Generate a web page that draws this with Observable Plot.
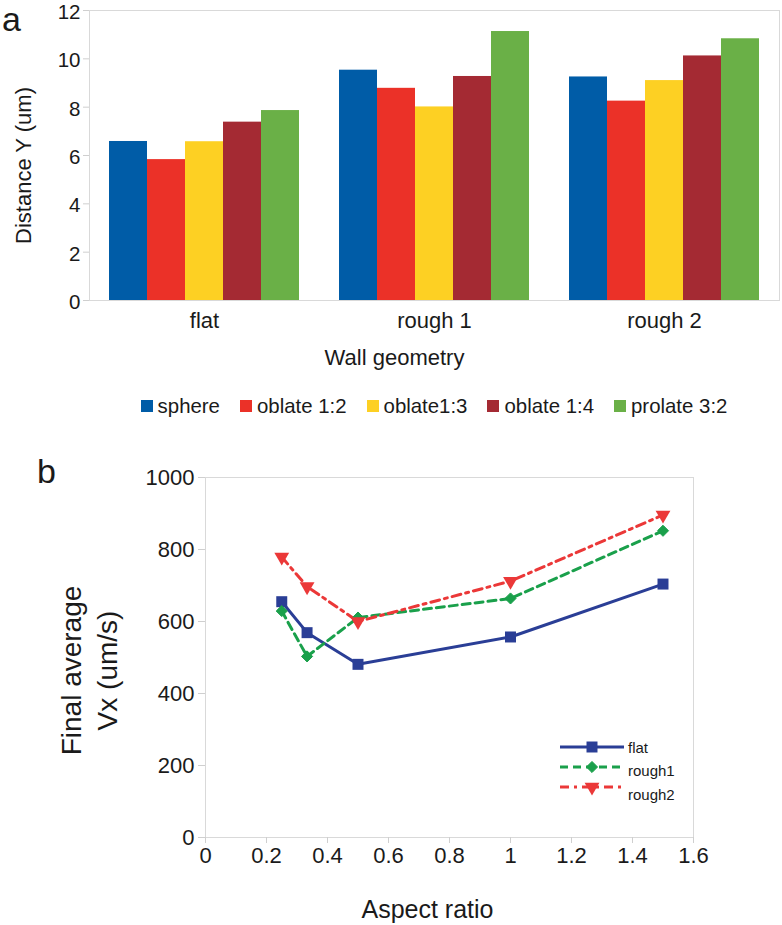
<!DOCTYPE html>
<html>
<head>
<meta charset="utf-8">
<script src="https://cdn.jsdelivr.net/npm/d3@7"></script>
<script src="https://cdn.jsdelivr.net/npm/@observablehq/plot@0.6"></script>
<style>
  body { margin: 0; background: #fff; font-family: "Liberation Sans", Arial, sans-serif; }
  #root { position: relative; width: 782px; height: 925px; overflow: hidden; background: #fff; }
  .abs { position: absolute; }
  .panel { position: absolute; font-size: 34px; line-height: 1.15; color: #1a1a1a; }
  #legend1 { position: absolute; left: 89px; width: 690px; top: 393px; height: 26px;
             display: flex; justify-content: center; align-items: center; gap: 20px;
             font-size: 20.4px; color: #1a1a1a; }
  #legend1 .item { display: flex; align-items: center; white-space: nowrap; }
  #legend1 .sw { width: 12px; height: 12px; margin-right: 5px; }
</style>
</head>
<body>
<div id="root"></div>
<script>
// ---------- Panel a data ----------
const walls = ["flat", "rough 1", "rough 2"];
const shapes = ["sphere", "oblate 1:2", "oblate1:3", "oblate 1:4", "prolate 3:2"];
const shapeColors = ["#005ca7", "#eb3128", "#fdd023", "#a42a33", "#6ab047"];
const sphereY    = [6.58, 9.53, 9.25];
const oblate12Y  = [5.83, 8.78, 8.25];
const oblate13Y  = [6.57, 8.01, 9.10];
const oblate14Y  = [7.38, 9.27, 10.12];
const prolate32Y = [7.86, 11.13, 10.83];
const distTicks = [0, 2, 4, 6, 8, 10, 12];

// ---------- Panel b data ----------
const aspect  = [0.25, 0.333, 0.5, 1, 1.5];
const flatV   = [655, 569, 481, 557, 704];
const rough1V = [629, 503, 611, 664, 852];
const rough2V = [779, 697, 600, 712, 896];
const seriesNames = ["flat", "rough1", "rough2"];
const seriesColors = ["#2a3e96", "#1aa04b", "#eb3838"];
const vxTicks = [0, 200, 400, 600, 800, 1000];
const arTicks = [0, 0.2, 0.4, 0.6, 0.8, 1, 1.2, 1.4, 1.6];

const FONT = '"Liberation Sans", Arial, sans-serif';
const root = document.getElementById("root");

// ---------- build tables ----------
const shapeValues = [sphereY, oblate12Y, oblate13Y, oblate14Y, prolate32Y];
const barRows = [];
shapes.forEach((s, i) => walls.forEach((w, j) => barRows.push({wall: w, shape: s, value: shapeValues[i][j]})));

const lineRows = [flatV, rough1V, rough2V].map(vals => aspect.map((a, i) => ({a, v: vals[i]})));

// ---------- Panel a ----------
const chartA = Plot.plot({
  width: 782, height: 385,
  marginTop: 10, marginBottom: 85, marginLeft: 89, marginRight: 3,
  style: {fontFamily: FONT, fontSize: "21px", background: "white", color: "#1a1a1a", overflow: "visible"},
  fx: {domain: walls, padding: 0, label: null},
  x: {domain: shapes, paddingInner: 0, paddingOuter: 0.5, axis: null},
  y: {domain: [0, 12], label: null},
  color: {domain: shapes, range: shapeColors},
  marks: [
    Plot.barY(barRows, {fx: "wall", x: "shape", y: "value", fill: "shape", inset: 0}),
    Plot.frame({facet: "super", stroke: "#d9d9d9"}),
    // tick marks only
    Plot.axisY({ticks: distTicks, tickSize: 6, stroke: "#cfcfcf", fill: "none", label: null}),
    // tick labels only (nudged down a little, as in the original)
    Plot.axisY({ticks: distTicks, tickSize: 0, tickPadding: 9, stroke: "none", fill: "#1a1a1a", fontSize: 20.5, dy: 2, label: null}),
    Plot.axisFx({anchor: "bottom", tickSize: 0, tickPadding: 12, fontSize: 22, fill: "#1a1a1a", label: null}),
    Plot.text([{wall: "rough 1"}], {fx: "wall", frameAnchor: "bottom", text: () => "Wall geometry",
      textAnchor: "middle", lineAnchor: "middle", dx: -40, dy: 57, fontSize: 22, fill: "#1a1a1a"}),
    Plot.text([{wall: "flat"}], {fx: "wall", frameAnchor: "left", text: () => "Distance Y (um)",
      rotate: -90, textAnchor: "middle", lineAnchor: "middle", dx: -66, dy: 10, fontSize: 22, fill: "#1a1a1a"})
  ]
});
chartA.classList.add("abs");
chartA.style.left = "0px"; chartA.style.top = "0px";
root.appendChild(chartA);

// legend a
const leg1 = document.createElement("div");
leg1.id = "legend1";
shapes.forEach((s, i) => {
  const it = document.createElement("div"); it.className = "item";
  const sw = document.createElement("span"); sw.className = "sw"; sw.style.background = shapeColors[i];
  const tx = document.createElement("span"); tx.textContent = s;
  it.appendChild(sw); it.appendChild(tx); leg1.appendChild(it);
});
root.appendChild(leg1);

// ---------- Panel b ----------
const dashes = [null, "8 5", "9 5 3 5"];
const chartB = Plot.plot({
  width: 782, height: 470,
  marginTop: 22, marginBottom: 88, marginLeft: 205, marginRight: 89,
  style: {fontFamily: FONT, fontSize: "22px", background: "white", color: "#1a1a1a", overflow: "visible"},
  x: {domain: [0, 1.6]},
  y: {domain: [0, 1000]},
  marks: [
    Plot.frame({stroke: "#d9d9d9"}),
    Plot.axisY({ticks: vxTicks, tickFormat: d => String(d), tickSize: 7, tickPadding: 4, stroke: "#cfcfcf", fill: "#1a1a1a", fontSize: 22, label: null}),
    Plot.axisX({ticks: arTicks, tickFormat: d => String(d), tickSize: 6, tickPadding: 4, stroke: "#cfcfcf", fill: "#1a1a1a", fontSize: 22, label: null}),
    ...lineRows.map((rows, k) => Plot.line(rows, {x: "a", y: "v", stroke: seriesColors[k], strokeWidth: 3,
        strokeDasharray: dashes[k] || undefined})),
    Plot.dot(lineRows[0], {x: "a", y: "v", symbol: "square", r: 6.2, fill: seriesColors[0]}),
    Plot.dot(lineRows[1], {x: "a", y: "v", symbol: "diamond2", r: 5, fill: seriesColors[1], stroke: seriesColors[1], strokeWidth: 1}),
    Plot.dot(lineRows[2], {x: "a", y: "v", symbol: "triangle", rotate: 180, r: 5.5, fill: seriesColors[2]}),
    Plot.text(["Aspect ratio"], {frameAnchor: "bottom", text: d => d, textAnchor: "middle", lineAnchor: "middle",
      dx: -22, dy: 72, fontSize: 25, fill: "#1a1a1a"}),
    Plot.text(["Final average\nVx (um/s)"], {frameAnchor: "left", text: d => d, rotate: -90, textAnchor: "middle",
      lineAnchor: "middle", dx: -118, dy: 13, fontSize: 28, lineHeight: 1.28, fill: "#1a1a1a"})
  ]
});
chartB.classList.add("abs");
chartB.style.left = "0px"; chartB.style.top = "455px";
root.appendChild(chartB);

// legend b (inside plot area, as in the original)
const NS = "http://www.w3.org/2000/svg";
const leg2 = document.createElementNS(NS, "svg");
leg2.setAttribute("width", 130); leg2.setAttribute("height", 75);
leg2.setAttribute("class", "abs");
leg2.style.left = "558px"; leg2.style.top = "735px";
leg2.style.fontFamily = FONT;
const symbols = [d3.symbolSquare, d3.symbolDiamond2, d3.symbolTriangle];
const symSizes = [Math.PI * 6.2 * 6.2, Math.PI * 5 * 5, Math.PI * 5.5 * 5.5];
const labelDy = [6, 9, 13];
seriesNames.forEach((name, k) => {
  const y = 12 + k * 20;
  const ln = document.createElementNS(NS, "line");
  ln.setAttribute("x1", 2); ln.setAttribute("x2", 66); ln.setAttribute("y1", y); ln.setAttribute("y2", y);
  ln.setAttribute("stroke", seriesColors[k]); ln.setAttribute("stroke-width", 3);
  if (dashes[k]) ln.setAttribute("stroke-dasharray", dashes[k]);
  leg2.appendChild(ln);
  const p = document.createElementNS(NS, "path");
  p.setAttribute("d", d3.symbol(symbols[k], symSizes[k])());
  p.setAttribute("fill", seriesColors[k]);
  if (k === 1) { p.setAttribute("stroke", seriesColors[k]); p.setAttribute("stroke-width", 1); }
  p.setAttribute("transform", `translate(34,${y})` + (k === 2 ? " rotate(180)" : ""));
  leg2.appendChild(p);
  const t = document.createElementNS(NS, "text");
  t.setAttribute("x", 70); t.setAttribute("y", y + labelDy[k]);
  t.setAttribute("font-size", 15); t.setAttribute("fill", "#1a1a1a");
  t.textContent = name;
  leg2.appendChild(t);
});
root.appendChild(leg2);

// panel letters
const la = document.createElement("div"); la.className = "panel"; la.textContent = "a";
la.style.left = "2px"; la.style.top = "0px"; root.appendChild(la);
const lb = document.createElement("div"); lb.className = "panel"; lb.textContent = "b";
lb.style.left = "37px"; lb.style.top = "452px"; root.appendChild(lb);
</script>
</body>
</html>
